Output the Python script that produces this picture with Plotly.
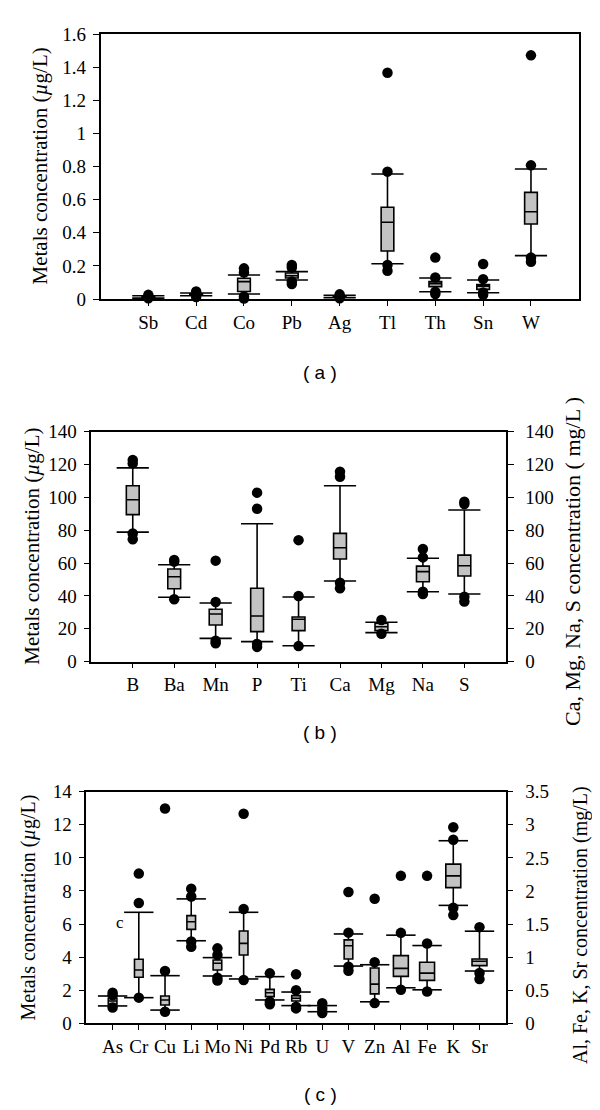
import plotly.graph_objects as go

# ---------------- DATA ----------------
# Panel (a)  (µg/L)
cats_a = ["Sb", "Cd", "Co", "Pb", "Ag", "Tl", "Th", "Sn", "W"]
lf_a = [0.005, 0.020, 0.030, 0.115, 0.008, 0.213, 0.044, 0.038, 0.262]
q1_a = [0.008, 0.024, 0.045, 0.127, 0.012, 0.290, 0.075, 0.058, 0.453]
med_a = [0.012, 0.028, 0.105, 0.140, 0.015, 0.463, 0.093, 0.078, 0.527]
q3_a = [0.016, 0.032, 0.125, 0.157, 0.018, 0.554, 0.105, 0.088, 0.644]
uf_a = [0.020, 0.036, 0.145, 0.165, 0.022, 0.755, 0.127, 0.115, 0.785]
out_a = [[0.025, 0.004], [0.045, 0.012], [0.185, 0.16, 0.015, 0.003],
         [0.205, 0.19, 0.105, 0.09], [0.028, 0.005], [1.366, 0.769, 0.205, 0.171],
         [0.25, 0.13, 0.044, 0.03], [0.211, 0.12, 0.04, 0.025], [1.471, 0.807, 0.25, 0.225]]

# Panel (b) left axis (µg/L)
cats_b_left = ["B", "Ba", "Mn", "P", "Ti"]
lf_b_left = [78.9, 39.2, 14.2, 12.2, 9.7]
q1_b_left = [89.5, 44.4, 22.3, 18.3, 18.9]
med_b_left = [98.6, 51.7, 29.0, 27.8, 25.8]
q3_b_left = [107.1, 56.4, 31.9, 44.7, 27.2]
uf_b_left = [118.0, 59.0, 35.7, 84.0, 39.4]
out_b_left = [[122.8, 120.7, 78.0, 74.5], [61.9, 60.9, 38.0], [61.5, 36.3, 12.8, 11.2],
              [102.9, 93.1, 10.8, 9.0], [74.0, 40.0, 9.5]]
# Panel (b) right axis (mg/L)
cats_b_right = ["Ca", "Mg", "Na", "S"]
lf_b_right = [49.1, 17.7, 42.6, 41.2]
q1_b_right = [62.5, 18.9, 48.7, 52.2]
med_b_right = [69.4, 21.3, 54.8, 58.4]
q3_b_right = [78.1, 23.4, 58.2, 64.9]
uf_b_right = [107.1, 24.0, 63.0, 92.3]
out_b_right = [[115.6, 112.6, 48.1, 44.7], [25.4, 17.0], [68.6, 63.5, 42.6, 41.2],
               [97.4, 96.0, 39.6, 36.6]]

# Panel (c) left axis (µg/L)
cats_c_left = ["As", "Cr", "Cu", "Li", "Mo", "Ni", "Pd", "Rb", "U", "V", "Zn"]
lf_c_left = [1.05, 1.55, 0.80, 4.99, 2.86, 2.68, 1.41, 1.07, 0.70, 3.46, 1.30]
q1_c_left = [1.15, 2.78, 1.11, 5.68, 3.22, 4.13, 1.61, 1.35, 0.80, 3.89, 1.78]
med_c_left = [1.35, 3.22, 1.41, 6.14, 3.63, 4.83, 1.85, 1.51, 0.90, 4.69, 2.37]
q3_c_left = [1.51, 3.87, 1.65, 6.51, 3.83, 5.58, 2.05, 1.67, 0.98, 5.04, 3.34]
uf_c_left = [1.65, 6.71, 2.88, 7.52, 3.97, 6.71, 2.82, 1.89, 1.07, 5.40, 3.54]
out_c_left = [[1.85, 1.70, 0.95], [9.05, 7.27, 1.55], [12.98, 3.16, 0.70],
              [8.14, 7.66, 4.95, 4.63], [4.53, 4.13, 2.76, 2.58], [12.67, 6.91, 2.62],
              [3.02, 1.31, 1.15], [2.96, 2.00, 1.00, 0.90], [1.21, 0.62],
              [7.94, 5.48, 3.42, 3.17], [7.53, 3.69, 1.22]]
# Panel (c) right axis (mg/L)
cats_c_right = ["Al", "Fe", "K", "Sr"]
lf_c_right = [0.537, 0.506, 1.782, 0.790]
q1_c_right = [0.709, 0.648, 2.051, 0.871]
med_c_right = [0.830, 0.759, 2.228, 0.937]
q3_c_right = [1.023, 0.922, 2.405, 0.972]
uf_c_right = [1.332, 1.175, 2.759, 1.392]
out_c_right = [[2.228, 1.367, 0.506], [2.228, 1.205, 0.480],
               [2.962, 2.775, 1.747, 1.635], [1.453, 0.760, 0.668]]

cats_b = cats_b_left + cats_b_right
cats_c = cats_c_left + cats_c_right

# ---------------- STYLE ----------------
W, H = 600, 1110
OFF = 8  # page body margin offset of the plot div
SERIF = "Liberation Serif"
SANS = "Liberation Sans"
BOXFILL = "#c3c3c3"


def px_x(p):
    return (p - OFF) / W


def px_y(p):
    return 1 - (p - OFF) / H


fig = go.Figure()


def add_group(cats, lf, q1, med, q3, uf, outs, xa, ya, width, capsize):
    fig.add_trace(go.Box(
        x=cats, lowerfence=lf, q1=q1, median=med, q3=q3, upperfence=uf,
        xaxis=xa, yaxis=ya, width=width, whiskerwidth=0,
        fillcolor=BOXFILL, line=dict(color="black", width=1.6),
        boxpoints=False, showlegend=False, hoverinfo="skip"))
    cx, cy = [], []
    for c, lo, hi in zip(cats, lf, uf):
        cx += [c, c]
        cy += [lo, hi]
    fig.add_trace(go.Scatter(
        x=cx, y=cy, mode="markers", xaxis=xa, yaxis=ya, cliponaxis=False,
        marker=dict(symbol="line-ew", size=capsize, color="black",
                    line=dict(color="black", width=1.6)),
        showlegend=False, hoverinfo="skip"))
    ox, oy = [], []
    for c, vals in zip(cats, outs):
        for v in vals:
            ox.append(c)
            oy.append(v)
    fig.add_trace(go.Scatter(
        x=ox, y=oy, mode="markers", xaxis=xa, yaxis=ya, cliponaxis=False,
        marker=dict(symbol="circle", size=10.5, color="black"),
        showlegend=False, hoverinfo="skip"))


add_group(cats_a, lf_a, q1_a, med_a, q3_a, uf_a, out_a, "x", "y", 0.265, 23)
add_group(cats_b_left, lf_b_left, q1_b_left, med_b_left, q3_b_left, uf_b_left,
          out_b_left, "x2", "y2", 0.31, 23)
add_group(cats_b_right, lf_b_right, q1_b_right, med_b_right, q3_b_right, uf_b_right,
          out_b_right, "x2", "y4", 0.31, 23)
add_group(cats_c_left, lf_c_left, q1_c_left, med_c_left, q3_c_left, uf_c_left,
          out_c_left, "x3", "y3", 0.33, 21)
add_group(cats_c_right, lf_c_right, q1_c_right, med_c_right, q3_c_right, uf_c_right,
          out_c_right, "x3", "y5", 0.57, 21)

tickfont = dict(family=SERIF, size=19, color="black")
common = dict(showline=True, linecolor="black", linewidth=1.5, ticks="outside",
              tickcolor="black", tickwidth=1.3, showgrid=False, zeroline=False,
              tickfont=tickfont, automargin=False, fixedrange=True)

# panel pixel boxes in the page: (left, right, top, bottom)
PA = (100.5, 578.8, 34.0, 299.0)
PB = (91.3, 505.8, 431.7, 661.7)
PC = (86.4, 505.7, 791.7, 1023.3)


def xdom(p):
    return [px_x(p[0]), px_x(p[1])]


def ydom(p):
    return [px_y(p[3]), px_y(p[2])]


fig.update_layout(
    width=W, height=H, autosize=False,
    margin=dict(l=0, r=0, t=0, b=0, pad=0),
    paper_bgcolor="white", plot_bgcolor="white",
    boxmode="overlay",
    xaxis=dict(domain=xdom(PA), anchor="y", type="category", categoryorder="array",
               categoryarray=cats_a, range=[-1, 9], mirror=True, ticklen=5, **common),
    yaxis=dict(domain=ydom(PA), anchor="x", range=[0, 1.6], dtick=0.2, tick0=0,
               mirror=True, ticklen=6, ticklabelstandoff=3, **common),
    xaxis2=dict(domain=xdom(PB), anchor="y2", type="category", categoryorder="array",
                categoryarray=cats_b, range=[-1, 9], mirror=True, ticklen=5, **common),
    yaxis2=dict(domain=ydom(PB), anchor="x2", range=[0, 140], dtick=20, tick0=0,
                ticklen=6, ticklabelstandoff=3, **common),
    yaxis4=dict(overlaying="y2", anchor="x2", side="right", range=[0, 140], dtick=20,
                tick0=0, ticklen=6, ticklabelstandoff=8, **common),
    xaxis3=dict(domain=xdom(PC), anchor="y3", type="category", categoryorder="array",
                categoryarray=cats_c, range=[-1, 15], mirror=True, ticklen=5, **common),
    yaxis3=dict(domain=ydom(PC), anchor="x3", range=[0, 14], dtick=2, tick0=0,
                ticklen=6, ticklabelstandoff=3, **common),
    yaxis5=dict(overlaying="y3", anchor="x3", side="right", range=[0, 3.5], dtick=0.5,
                tick0=0, ticklen=6, ticklabelstandoff=8, **common),
)

ann = []


def add_text(text, x, y, size, family=SERIF, angle=0):
    ann.append(dict(text=text, x=px_x(x), y=px_y(y), xref="paper", yref="paper",
                    showarrow=False, textangle=angle, xanchor="center", yanchor="middle",
                    font=dict(family=family, size=size, color="black")))


left_title = "Metals concentration (<i>µ</i>g/L)"
add_text(left_title, 40, (PA[2] + PA[3]) / 2, 21, angle=-90)
add_text(left_title, 32, (PB[2] + PB[3]) / 2, 21, angle=-90)
add_text(left_title, 28, (PC[2] + PC[3]) / 2, 20, angle=-90)
add_text("Ca, Mg, Na, S concentration ( mg/L )", 572, 562, 22, angle=-90)
add_text("Al, Fe, K, Sr concentration (mg/L)", 580, 925, 20, angle=-90)
add_text("( a )", 320, 372, 19, family=SANS)
add_text("( b )", 320, 732, 19, family=SANS)
add_text("( c )", 320, 1094, 19, family=SANS)
add_text("c", 120, 922, 17)

fig.update_layout(annotations=ann)

fig.write_html("out.html")
